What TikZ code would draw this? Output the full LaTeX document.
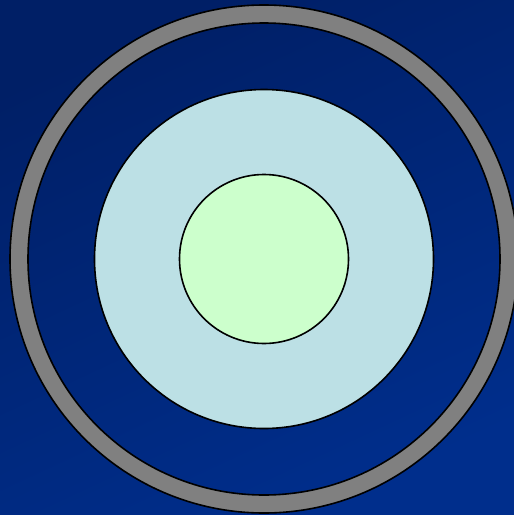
\documentclass[tikz,border=0pt]{standalone}
\definecolor{bgtop}{HTML}{001F66}
\definecolor{bgbot}{HTML}{002E8C}
\definecolor{ringgray}{HTML}{808080}
\definecolor{lblue}{HTML}{BCE0E5}
\definecolor{lgreen}{HTML}{CCFFCC}
\begin{document}
\begin{tikzpicture}[x=1pt,y=-1pt,
  outline/.style={draw=black,line width=1.6pt}]
\shade[top color=bgtop,bottom color=bgbot,shading angle=25] (0,0) rectangle (514,515);
\useasboundingbox (0,0) rectangle (514,515);
\coordinate (c) at (264,259);
\fill[ringgray,even odd rule] (c) circle[radius=254] (c) circle[radius=236];
\draw[outline] (c) circle[radius=254];
\draw[outline] (c) circle[radius=236];
\node[circle,outline,fill=lblue,minimum size=339pt,inner sep=0pt] (mid) at (c) {};
\node[circle,outline,fill=lgreen,minimum size=169pt,inner sep=0pt] (core) at (c) {};
\end{tikzpicture}
\end{document}
